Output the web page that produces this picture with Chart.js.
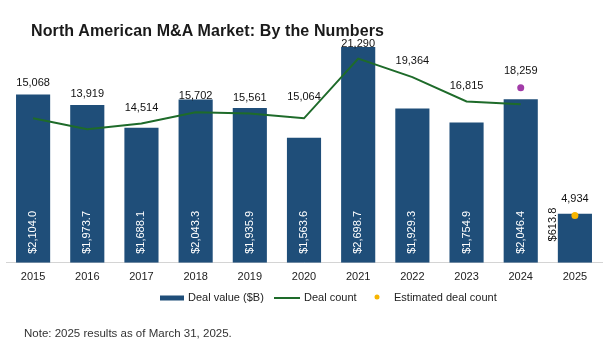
<!DOCTYPE html>
<html>
<head>
<meta charset="utf-8">
<script src="https://cdn.jsdelivr.net/npm/chart.js@4.4.1/dist/chart.umd.min.js"></script>
<style>
  html, body { margin: 0; padding: 0; background: #fff; }
  #wrap { position: relative; width: 610px; height: 348px; }
  #title {
    position: absolute; left: 31px; top: 22px;
    font: bold 16px "Liberation Sans", Arial, sans-serif; color: #1a1a1a;
    letter-spacing: 0.12px;
    white-space: nowrap;
  }
  #note {
    position: absolute; left: 24px; top: 327px;
    font: 11.5px "Liberation Sans", Arial, sans-serif; color: #333;
    white-space: nowrap;
  }
</style>
</head>
<body>
<div id="wrap">
  <canvas id="mna" width="610" height="348"></canvas>
  <div id="title">North American M&amp;A Market: By the Numbers</div>
  <div id="note">Note: 2025 results as of March 31, 2025.</div>
</div>
<script>
// years on the x axis
const years = ['2015', '2016', '2017', '2018', '2019', '2020', '2021', '2022', '2023', '2024', '2025'];

// deal value, $B
const dealValue = [2104.0, 1973.7, 1688.1, 2043.3, 1935.9, 1563.6, 2698.7, 1929.3, 1754.9, 2046.4, 613.8];

// completed deal count (2024 point not labelled, 2025 partial year not on the line)
const dealCount = [15068, 13919, 14514, 15702, 15561, 15064, 21290, 19364, 16815, 16530, null];
const countLabelled = [true, true, true, true, true, true, true, true, true, false, false];

// estimated full-year deal count
const estCount = [null, null, null, null, null, null, null, null, null, 18259, 4934];

const BLUE = '#1f4e79';
const GREEN = '#1e6b2a';
const PURPLE = '#a23ca8';
const GOLD = '#f7b500';
const FONT = '"Liberation Sans", Arial, sans-serif';

// how far above the point each count label sits
const countLift = [35, 35, 16, 16, 16, 21, 15, 16, 16, 16, 16];
const estLift = 17;

const fmt = n => n.toLocaleString('en-US');
const money = n => '$' + n.toLocaleString('en-US', { minimumFractionDigits: 1, maximumFractionDigits: 1 });

const labelPlugin = {
  id: 'mnaLabels',
  afterDatasetsDraw(chart) {
    const ctx = chart.ctx;
    ctx.save();
    ctx.font = '11px ' + FONT;

    // bar values, rotated, sitting at the bottom of each bar
    const bars = chart.getDatasetMeta(2).data;
    bars.forEach((bar, i) => {
      const txt = money(dealValue[i]);
      const w = ctx.measureText(txt).width;
      const h = bar.base - bar.y;
      ctx.save();
      ctx.textBaseline = 'middle';
      if (h > w + 16) {
        ctx.translate(bar.x, bar.base - 9);
        ctx.rotate(-Math.PI / 2);
        ctx.textAlign = 'left';
        ctx.fillStyle = '#fff';
        ctx.fillText(txt, 0, 0);
      } else {
        // too short: put it beside the bar
        ctx.translate(bar.x - bar.width / 2 - 5, bar.y - 6);
        ctx.rotate(-Math.PI / 2);
        ctx.textAlign = 'right';
        ctx.fillStyle = '#111';
        ctx.fillText(txt, 0, 0);
      }
      ctx.restore();
    });

    ctx.fillStyle = '#111';
    ctx.textAlign = 'center';
    ctx.textBaseline = 'middle';
    const line = chart.getDatasetMeta(0).data;
    line.forEach((pt, i) => {
      if (dealCount[i] == null || !countLabelled[i]) return;
      ctx.fillText(fmt(dealCount[i]), pt.x, pt.y - countLift[i]);
    });
    const est = chart.getDatasetMeta(1).data;
    est.forEach((pt, i) => {
      if (estCount[i] == null) return;
      ctx.fillText(fmt(estCount[i]), pt.x, pt.y - estLift);
    });
    ctx.restore();
  },
  afterDraw(chart) {
    // legend row under the axis
    const ctx = chart.ctx;
    ctx.save();
    ctx.font = '11px ' + FONT;
    ctx.fillStyle = '#222';
    ctx.textBaseline = 'middle';
    ctx.textAlign = 'left';
    const y = 298;
    let x = 160;
    ctx.fillStyle = BLUE;
    ctx.fillRect(x, y - 2.5, 24, 5);
    ctx.fillStyle = '#222';
    ctx.fillText('Deal value ($B)', x + 28, y);
    x = 274;
    ctx.strokeStyle = GREEN;
    ctx.lineWidth = 2;
    ctx.beginPath();
    ctx.moveTo(x, y);
    ctx.lineTo(x + 26, y);
    ctx.stroke();
    ctx.fillText('Deal count', x + 30, y);
    x = 377;
    ctx.fillStyle = GOLD;
    ctx.beginPath();
    ctx.arc(x, y - 1, 2.5, 0, Math.PI * 2);
    ctx.fill();
    ctx.fillStyle = '#222';
    ctx.fillText('Estimated deal count', x + 17, y);
    ctx.restore();
  }
};

new Chart(document.getElementById('mna'), {
  data: {
    labels: years,
    datasets: [
      {
        type: 'line',
        label: 'Deal count',
        data: dealCount,
        yAxisID: 'yCount',
        borderColor: GREEN,
        borderWidth: 2,
        pointRadius: 0,
        tension: 0,
        spanGaps: false,
        order: 0
      },
      {
        type: 'line',
        label: 'Estimated deal count',
        data: estCount,
        yAxisID: 'yCount',
        showLine: false,
        pointRadius: 3.5,
        pointBorderWidth: 0,
        pointBackgroundColor: years.map((y, i) => i === 9 ? PURPLE : GOLD),
        order: 0
      },
      {
        type: 'bar',
        label: 'Deal value ($B)',
        data: dealValue,
        yAxisID: 'yValue',
        backgroundColor: BLUE,
        categoryPercentage: 1,
        barPercentage: 0.63,
        order: 1
      }
    ]
  },
  options: {
    responsive: false,
    animation: false,
    layout: { padding: { left: 6, right: 8, top: 23, bottom: 56 } },
    plugins: {
      legend: { display: false },
      tooltip: { enabled: false }
    },
    scales: {
      x: {
        grid: { display: false, drawTicks: false },
        border: { display: true, color: '#d4d4d4', width: 1 },
        ticks: { color: '#222', font: { family: FONT, size: 11 }, padding: 8 }
      },
      yValue: { display: false, min: 0, max: 3000 },
      yCount: { display: false, min: 0, max: 25000 }
    }
  },
  plugins: [labelPlugin]
});
</script>
</body>
</html>
